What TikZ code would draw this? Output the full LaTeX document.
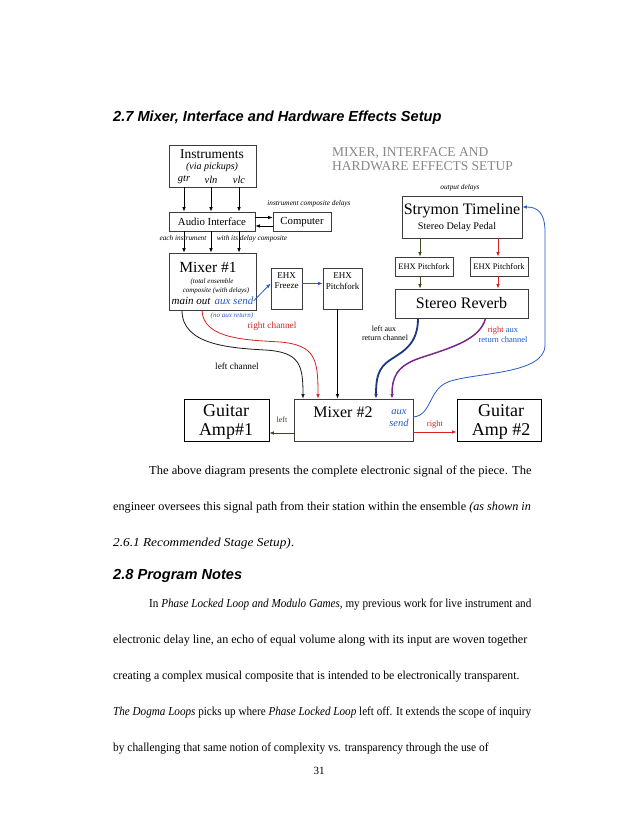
\documentclass[tikz,border=0pt]{standalone}
\usepackage{graphicx}
\usepackage{fontspec}
\setmainfont{Liberation Serif}
\newfontfamily\headfont{Liberation Sans}
\usetikzlibrary{arrows.meta}
\definecolor{boxc}{RGB}{60,60,60}
\definecolor{dgreen}{RGB}{55,75,30}
\definecolor{sred}{RGB}{215,35,35}
\definecolor{sblue}{RGB}{40,90,200}
\definecolor{navy}{RGB}{30,55,130}
\definecolor{spurple}{RGB}{120,40,140}
\definecolor{tgray}{RGB}{135,135,135}
\newcommand{\fsz}[1]{\fontsize{#1}{#1}\selectfont}
\newcommand{\hsc}[2]{\scalebox{#1}[1]{#2}}
\tikzset{
  box/.style={draw=boxc, line width=0.8pt, inner sep=0pt},
  lbl/.style={inner sep=0pt},
  arr/.style={-{Latex[length=4.5pt,width=3.6pt]}, line width=0.8pt},
  bodyline/.style={inner sep=0pt, anchor=base west, font=\fsz{12.2}},
}
\begin{document}
\begin{tikzpicture}[x=1pt,y=-1pt]
\fill[white] (0,0) rectangle (638,826);
\useasboundingbox (0,0) rectangle (638,826);

% heading
\node[lbl, anchor=base west, font=\headfont\bfseries\itshape\fsz{14.6}] (h27) at (113,121.5) {2.7 Mixer, Interface and Hardware Effects Setup};

% ---------- diagram boxes ----------
\node[box, minimum width=87, minimum height=42] (inst) at (212.5,166) {};
\node[box, minimum width=86, minimum height=19] (ai) at (212,221.5) {};
\node[box, minimum width=58, minimum height=19] (comp) at (302,221.5) {};
\node[box, minimum width=87, minimum height=57] (mix1) at (212.5,281.5) {};
\node[box, minimum width=31, minimum height=41] (frz) at (286.5,288.5) {};
\node[box, minimum width=39, minimum height=41] (pf) at (342.5,288.5) {};
\node[box, minimum width=120, minimum height=42] (stry) at (462,217) {};
\node[box, minimum width=58, minimum height=19] (pf1) at (424,266.5) {};
\node[box, minimum width=58, minimum height=19] (pf2) at (499,266.5) {};
\node[box, minimum width=133, minimum height=29] (rev) at (461.5,303.5) {};
\node[box, minimum width=119, minimum height=42] (mix2) at (353.5,420) {};
\node[box, draw=black, minimum width=85, minimum height=42] (amp1) at (226.5,420) {};
\node[box, draw=black, minimum width=84, minimum height=42] (amp2) at (499,420) {};

% ---------- diagram texts ----------
\node[lbl, font=\fsz{13.5}] (tInst) at (212,154) {Instruments};
\node[lbl, font=\itshape\fsz{10}] (tVia) at (212,167) {(via pickups)};
\node[lbl, font=\itshape\fsz{10.5}] (gtr) at (184,180) {gtr};
\node[lbl, font=\itshape\fsz{10.5}] (vln) at (211,180) {vln};
\node[lbl, font=\itshape\fsz{10.5}] (vlc) at (239,180) {vlc};
\node[lbl, font=\fsz{10.8}] (tAI) at (212,222) {Audio Interface};
\node[lbl, font=\fsz{10.8}] (tComp) at (302,222) {Computer};
\node[lbl, font=\itshape\fsz{7.3}] (tICD) at (309,204) {instrument composite delays};
\node[lbl, font=\itshape\fsz{7.3}] (tEach) at (183,238.5) {each instrument};
\node[lbl, font=\itshape\fsz{7.3}] (tWith) at (252,238.5) {with its delay composite};

\node[lbl, font=\fsz{15.5}] (tM1) at (208,267) {Mixer \#1};
\node[lbl, font=\itshape\fsz{7}] (tTot) at (212,282) {(total ensemble};
\node[lbl, font=\itshape\fsz{7}] (tComps) at (216,290.5) {composite (with delays)};
\node[lbl, font=\itshape\fsz{11}] (tMain) at (191,301) {main out};
\node[lbl, font=\itshape\fsz{11}, text=sblue] (tAux) at (234,301) {aux send};
\node[lbl, font=\itshape\fsz{7}, text=sblue] (tNoAux) at (232,316) {(no aux return)};
\node[lbl, font=\fsz{9.3}, text=sred] (tRC) at (272,326) {right channel};
\node[lbl, font=\fsz{9.3}] (tLC) at (237,366) {left channel};

\node[lbl, font=\fsz{9}] (tFe) at (286.5,276) {EHX};
\node[lbl, font=\fsz{9}] (tFz) at (286.5,286) {Freeze};
\node[lbl, font=\fsz{9}] (tPe) at (342.5,276) {EHX};
\node[lbl, font=\fsz{9}] (tPf) at (342.5,286) {Pitchfork};

\node[lbl, anchor=west, font=\fsz{13.5}, text=tgray] (tit1) at (332,153) {MIXER, INTERFACE AND};
\node[lbl, anchor=west, font=\fsz{13.5}, text=tgray] (tit2) at (332,166) {HARDWARE EFFECTS SETUP};

\node[lbl, font=\itshape\fsz{7.3}] (tOut) at (460,188) {output delays};
\node[lbl, font=\fsz{16}] (tStry) at (462,211) {Strymon Timeline};
\node[lbl, font=\fsz{10.2}] (tSdp) at (457,227) {Stereo Delay Pedal};
\node[lbl, font=\fsz{8.5}] (tPf1) at (424,266.5) {EHX Pitchfork};
\node[lbl, font=\fsz{8.5}] (tPf2) at (499,266.5) {EHX Pitchfork};
\node[lbl, font=\fsz{16}] (tRev) at (461.5,303.5) {Stereo Reverb};
\node[lbl, font=\fsz{8}] (tLA1) at (384,329) {left aux};
\node[lbl, font=\fsz{8}] (tLA2) at (385,337.5) {return channel};
\node[lbl, font=\fsz{8.5}] (tRA1) at (503,330) {\textcolor{sred}{right} \textcolor{sblue}{aux}};
\node[lbl, font=\fsz{8.5}, text=sblue] (tRA2) at (503,340) {return channel};

\node[lbl, font=\fsz{16}] (tM2) at (343,412) {Mixer \#2};
\node[lbl, font=\itshape\fsz{10.5}, text=sblue] (tAx) at (399,412) {aux};
\node[lbl, font=\itshape\fsz{10.5}, text=sblue] (tSd) at (399,422.5) {send};
\node[lbl, font=\fsz{18}] (tG1) at (226,411) {Guitar};
\node[lbl, font=\fsz{18}] (tA1) at (226,431) {Amp\#1};
\node[lbl, font=\fsz{18}] (tG2) at (501,411) {Guitar};
\node[lbl, font=\fsz{18}] (tA2) at (501,431) {Amp \#2};
\node[lbl, font=\fsz{8}, text=dgreen] (tLeft) at (282,420) {left};
\node[lbl, font=\fsz{8.5}, text=sred] (tRight) at (435,424) {right};

% ---------- connectors ----------
\foreach \n in {gtr,vln,vlc}{
  \draw[arr] (inst.south -| \n) -- (ai.north -| \n);
  \draw[arr] (ai.south -| \n) -- (mix1.north -| \n);
}
\draw[arr] ([yshift=4]ai.east) -- ([yshift=4]comp.west);
\draw[arr] ([yshift=-4.5]comp.west) -- ([yshift=-4.5]ai.east);

\draw[arr, sblue] (tAux.east) -- ([yshift=5]frz.west);
\draw[arr, sblue] ([yshift=5]frz.east) -- ([yshift=5]pf.west);
\draw[arr] ([xshift=-5]pf.south) -- ([xshift=-5]pf.south |- mix2.north);

\draw[arr, dgreen] ([xshift=-42]stry.south) -- ([xshift=-4]pf1.north);
\draw[arr, dgreen] ([xshift=-4]pf1.south) -- ([xshift=-41.5]rev.north);
\draw[arr, sred] ([xshift=36]stry.south) -- ([xshift=-1]pf2.north);
\draw[arr, sred] ([xshift=-1]pf2.south) -- ([xshift=36.5]rev.north);

\draw[arr, black!90] ([xshift=-30.5]mix1.south) .. controls (182,345) and (230,348) .. (265,350)
   .. controls (300,352) and (303,365) .. ([xshift=-50.5]mix2.north);
\draw[arr, sred] ([xshift=-10.5]mix1.south) .. controls (203,340) and (250,340) .. (280,342)
   .. controls (316,345) and (318,360) .. ([xshift=-35.5]mix2.north);
\draw[arr, navy, line width=1.8pt] ([xshift=-43.5]rev.south) .. controls (418,345) and (402,352) .. (390,360)
   .. controls (378,368) and (376,378) .. ([xshift=22.5]mix2.north);
\draw[arr, spurple, line width=1.5pt] ([xshift=24]rev.south) .. controls (480,340) and (450,348) .. (420,358)
   .. controls (396,366) and (392,378) .. ([xshift=38.5]mix2.north);
\draw[arr, sblue] ([yshift=3]mix2.east) .. controls (432,415) and (428,390) .. (448,382)
   .. controls (475,372) and (545,375) .. (545,345) -- (545,232)
   .. controls (545,212) and (537,207) .. ([yshift=10]stry.east);

\draw[arr, dgreen] ([yshift=-13]mix2.west) -- ([yshift=-13]amp1.east);
\draw[arr, sred] ([yshift=-12]mix2.east) -- ([yshift=-12]amp2.west);

% ---------- body text ----------
\node[bodyline] (b1) at (149,474) {\hsc{1.027}{The above diagram presents the complete electronic signal of the piece. The}};
\node[bodyline] (b2) at (113,510) {engineer oversees this signal path from their station within the ensemble \textit{(as shown in}};
\node[bodyline] (b3) at (113,546) {\hsc{1.09}{\textit{2.6.1 Recommended Stage Setup)}.}};

\node[lbl, anchor=base west, font=\headfont\bfseries\itshape\fsz{14.6}] (h28) at (113,579) {2.8 Program Notes};

\node[bodyline] (c1) at (149,607) {\hsc{0.914}{In \textit{Phase Locked Loop and Modulo Games,} my previous work for live instrument and}};
\node[bodyline] (c2) at (113,643) {\hsc{0.988}{electronic delay line, an echo of equal volume along with its input are woven together}};
\node[bodyline] (c3) at (113,679) {\hsc{0.964}{creating a complex musical composite that is intended to be electronically transparent.}};
\node[bodyline] (c4) at (113,715) {\hsc{0.913}{\textit{The Dogma Loops} picks up where \textit{Phase Locked Loop} left off. It extends the scope of inquiry}};
\node[bodyline] (c5) at (113,751) {\hsc{0.934}{by challenging that same notion of complexity vs. transparency through the use of}};
\node[lbl, anchor=base, font=\fsz{11}] (pg) at (319,774) {31};
\end{tikzpicture}
\end{document}
